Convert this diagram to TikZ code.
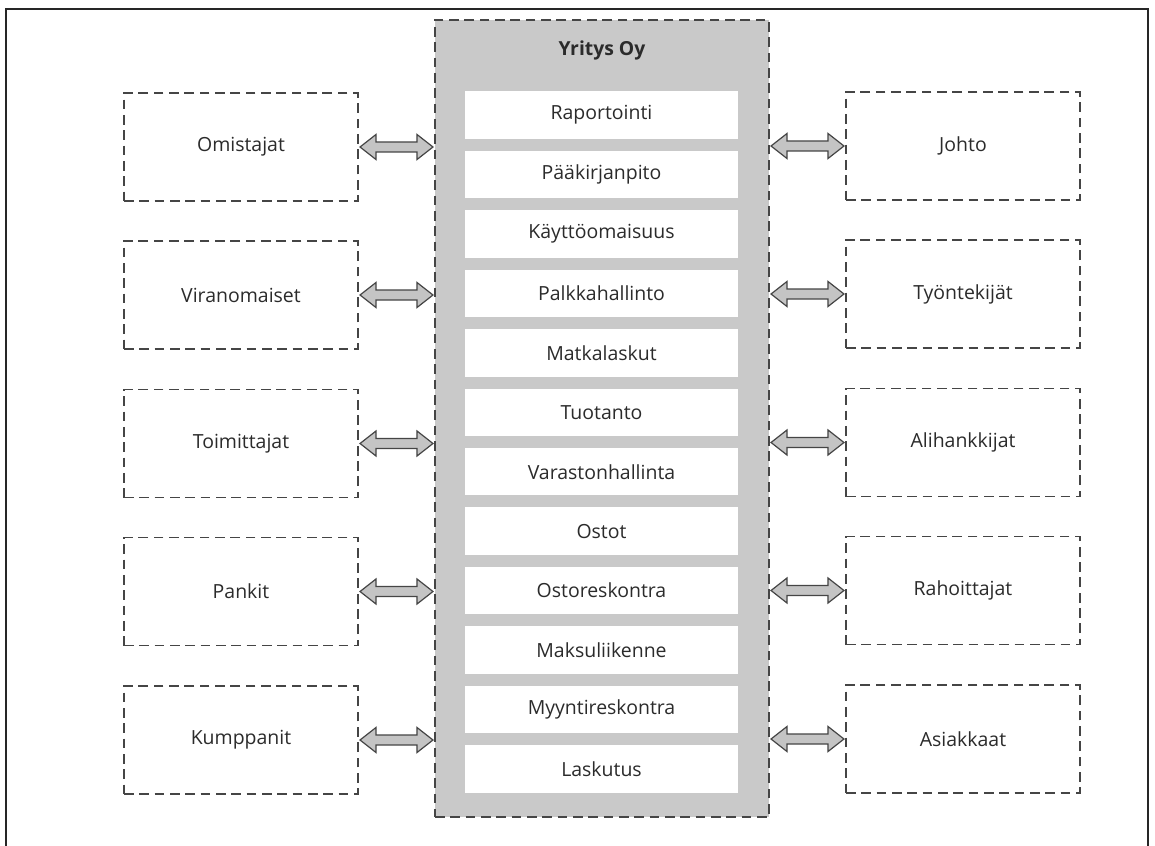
\documentclass[tikz,border=0pt]{standalone}
\usepackage{fontspec}
\setmainfont{Open Sans}
\usetikzlibrary{calc}
\definecolor{txt}{HTML}{2B2B2B}
\definecolor{edge}{HTML}{454545}
\definecolor{panel}{HTML}{C9C9C9}
\definecolor{arrowfill}{HTML}{C4C4C4}
\tikzset{
  dashline/.style={draw=edge, line width=1.05pt, dash pattern=on 7.3pt off 4.2pt},
  party/.style={dashline, minimum width=175.5pt, minimum height=81pt, inner sep=0pt,
    font=\fontsize{14.6}{17}\selectfont, text=txt},
  outerbox/.style={dashline, fill=panel, minimum width=250.5pt, minimum height=597.75pt, inner sep=0pt},
  item/.style={fill=white, minimum width=204.75pt, minimum height=35.6pt, inner sep=0pt,
    font=\fontsize{14.6}{17}\selectfont, text=txt},
  titletext/.style={font=\fontsize{14.5}{17}\selectfont\bfseries, text=txt},
  fat/.style={draw=edge, fill=arrowfill, line width=0.9pt, line join=miter},
  frameline/.style={draw=black!85, line width=1.6pt}
}
% #1: anchor giving y, #2: anchor giving start x, #3: anchor giving end x
\newcommand\fatarrow[3]{%
  \draw[fat] let \p1=(#1), \p2=(#2), \p3=(#3) in
    ({\x2+1pt},\y1) -- ({\x2+13pt},{\y1+9.4pt}) -- ({\x2+13pt},{\y1+3.75pt})
    -- ({\x3-13pt},{\y1+3.75pt}) -- ({\x3-13pt},{\y1+9.4pt}) -- ({\x3-1pt},\y1)
    -- ({\x3-13pt},{\y1-9.4pt}) -- ({\x3-13pt},{\y1-3.75pt})
    -- ({\x2+13pt},{\y1-3.75pt}) -- ({\x2+13pt},{\y1-9.4pt}) -- cycle;}
\begin{document}
\begin{tikzpicture}[x=0.75pt,y=-0.75pt]
\useasboundingbox (0,0) rectangle (1155,845);
\clip (0,0) rectangle (1155,845);
\fill[white] (0,0) rectangle (1155,845);
\draw[frameline] (6,880) -- (6,9) -- (1148,9) -- (1148,880);

% central company box
\node[outerbox] (yritys) at (602,418.5) {};
\node[titletext] (title) at (602,50) {Yritys Oy};
\foreach \i/\name/\txt in {0/i0/Raportointi,1/i1/Pääkirjanpito,2/i2/Käyttöomaisuus,
  3/i3/Palkkahallinto,4/i4/Matkalaskut,5/i5/Tuotanto,6/i6/Varastonhallinta,
  7/i7/Ostot,8/i8/Ostoreskontra,9/i9/Maksuliikenne,10/i10/Myyntireskontra,11/i11/Laskutus}
  \node[item] (\name) at (601.5,{115+59.45*\i}) {\txt};

% left parties
\node[party] (om) at (241,147) {Omistajat};
\node[party] (vi) at (241,295) {Viranomaiset};
\node[party] (to) at (241,443.5) {Toimittajat};
\node[party] (pa) at (241,591.5) {Pankit};
\node[party] (ku) at (241,740) {Kumppanit};

% right parties
\node[party] (jo) at (963,146) {Johto};
\node[party] (ty) at (963,294) {Työntekijät};
\node[party] (al) at (963,442.5) {Alihankkijat};
\node[party] (ra) at (963,590.5) {Rahoittajat};
\node[party] (as) at (963,739) {Asiakkaat};

% connectors
\foreach \nd in {om,vi,to,pa,ku}
  \fatarrow{\nd.east}{\nd.east}{yritys.west};
\foreach \nd in {jo,ty,al,ra,as}
  \fatarrow{\nd.west}{yritys.east}{\nd.west};
\end{tikzpicture}
\end{document}
